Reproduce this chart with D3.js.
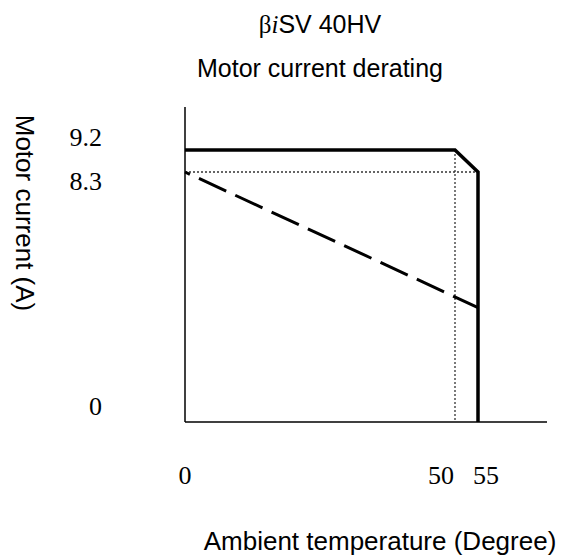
<!DOCTYPE html>
<html>
<head>
<meta charset="utf-8">
<script src="https://cdn.jsdelivr.net/npm/d3@7"></script>
<style>
  body { margin: 0; background: #fff; }
  .sans { font-family: Arial, "Liberation Sans", sans-serif; }
  .serif { font-family: "Times New Roman", "Liberation Serif", serif; }
</style>
</head>
<body>
<svg width="562" height="560"></svg>
<script>
// derating curve data (temperature in degree, current in A)
var xTicks = [0, 50, 55];
var yTicks = [0, 8.3, 9.2];
var ratedCurve = [[0, 9.2], [50, 9.2], [55, 8.3], [55, 0]];
var derateCurve = [[0, 8.3], [55, 3.8]];
var guideH = [[0, 8.3], [55, 8.3]];
var guideV = [[50, 9.2], [50, 0]];

var svg = d3.select("svg");

// the sketch is not drawn to scale, so use piecewise scales
var x = d3.scaleLinear().domain([0, 50, 55]).range([185, 455, 478]);
var y = d3.scaleLinear().domain([0, 8.3, 9.2]).range([422, 172, 150]);

var line = d3.line()
    .x(function (d) { return x(d[0]); })
    .y(function (d) { return y(d[1]); });

// axes
svg.append("line")
    .attr("x1", x(0)).attr("x2", x(0))
    .attr("y1", 107).attr("y2", y(0))
    .attr("stroke", "#000").attr("stroke-width", 1.5);
svg.append("line")
    .attr("x1", x(0)).attr("x2", 547)
    .attr("y1", y(0)).attr("y2", y(0))
    .attr("stroke", "#000").attr("stroke-width", 1.5);

// dotted guide lines
[guideH, guideV].forEach(function (g) {
    svg.append("path")
        .datum(g)
        .attr("d", line)
        .attr("fill", "none")
        .attr("stroke", "#333")
        .attr("stroke-width", 1.3)
        .attr("stroke-dasharray", "2,2");
});

// curves
svg.append("path")
    .datum(derateCurve)
    .attr("d", line)
    .attr("fill", "none")
    .attr("stroke", "#000")
    .attr("stroke-width", 3)
    .attr("stroke-dasharray", "30,10")
    .attr("stroke-dashoffset", 24.6);

svg.append("path")
    .datum(ratedCurve)
    .attr("d", line)
    .attr("fill", "none")
    .attr("stroke", "#000")
    .attr("stroke-width", 3.5)
    .attr("stroke-linejoin", "miter");

// tick labels (nudged like in the original drawing)
var xNudge = { 0: 0, 50: -14, 55: 8 };
var yNudge = { 0: -7, 8.3: 18, 9.2: -4 };

svg.selectAll(".xt")
    .data(xTicks)
    .enter().append("text")
    .attr("class", "xt serif")
    .attr("x", function (d) { return x(d) + xNudge[d]; })
    .attr("y", 484)
    .attr("text-anchor", "middle")
    .style("font-size", "26px")
    .text(function (d) { return d; });

svg.selectAll(".yt")
    .data(yTicks)
    .enter().append("text")
    .attr("class", "yt serif")
    .attr("x", 102)
    .attr("y", function (d) { return y(d) + yNudge[d]; })
    .attr("text-anchor", "end")
    .style("font-size", "26px")
    .text(function (d) { return d; });

// titles
var t1 = svg.append("text")
    .attr("x", 320).attr("y", 33)
    .attr("text-anchor", "middle")
    .attr("class", "sans")
    .style("font-size", "25px");
t1.append("tspan").attr("class", "serif").text("β");
t1.append("tspan").attr("class", "serif").style("font-style", "italic").text("i");
t1.append("tspan").text("SV 40HV");

svg.append("text")
    .attr("x", 320).attr("y", 77)
    .attr("text-anchor", "middle")
    .attr("class", "sans")
    .style("font-size", "25px")
    .text("Motor current derating");

svg.append("text")
    .attr("transform", "translate(16,213) rotate(90)")
    .attr("text-anchor", "middle")
    .attr("class", "sans")
    .style("font-size", "26px")
    .text("Motor current (A)");

svg.append("text")
    .attr("x", 380).attr("y", 550)
    .attr("text-anchor", "middle")
    .attr("class", "sans")
    .style("font-size", "26px")
    .text("Ambient temperature (Degree)");
</script>
</body>
</html>
